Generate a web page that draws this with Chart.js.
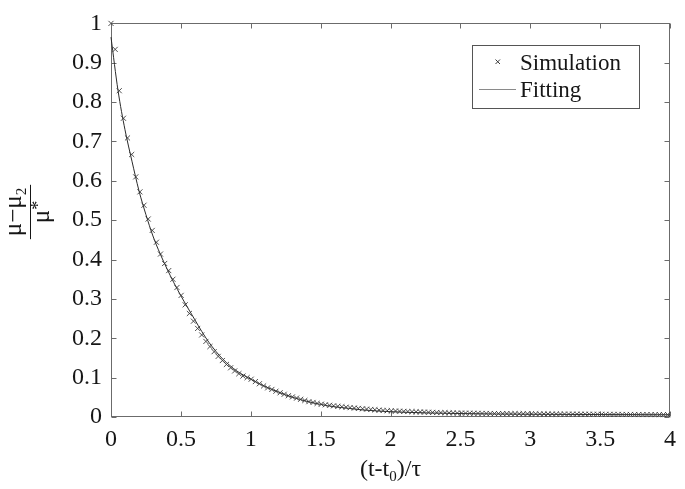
<!DOCTYPE html>
<html>
<head>
<meta charset="utf-8">
<script src="https://cdn.jsdelivr.net/npm/chart.js@4.4.1/dist/chart.umd.min.js"></script>
<style>
  html, body { margin: 0; padding: 0; background: #fff; }
  #wrap { width: 685px; height: 489px; }
</style>
</head>
<body>
<div id="wrap"><canvas id="chart" width="685" height="489"></canvas></div>
<script>
// --- data ---

const SIM_X = [
  0, 0.03, 0.059, 0.089, 0.118, 0.148, 0.177, 0.207, 0.236, 0.266,
  0.295, 0.325, 0.354, 0.384, 0.413, 0.443, 0.472, 0.502, 0.531, 0.561,
  0.59, 0.62, 0.649, 0.679, 0.708, 0.738, 0.767, 0.797, 0.826, 0.856,
  0.885, 0.915, 0.944, 0.974, 1.003, 1.033, 1.062, 1.092, 1.121, 1.151,
  1.18, 1.21, 1.239, 1.269, 1.298, 1.328, 1.357, 1.387, 1.416, 1.446,
  1.475, 1.505, 1.534, 1.564, 1.593, 1.623, 1.652, 1.682, 1.711, 1.741,
  1.77, 1.8, 1.829, 1.859, 1.888, 1.918, 1.947, 1.977, 2.006, 2.036,
  2.065, 2.095, 2.124, 2.154, 2.183, 2.213, 2.242, 2.272, 2.301, 2.331,
  2.36, 2.39, 2.419, 2.449, 2.478, 2.508, 2.537, 2.567, 2.596, 2.626,
  2.655, 2.685, 2.714, 2.744, 2.773, 2.803, 2.832, 2.862, 2.891, 2.921,
  2.95, 2.98, 3.009, 3.039, 3.068, 3.098, 3.127, 3.157, 3.186, 3.216,
  3.245, 3.275, 3.304, 3.334, 3.363, 3.393, 3.422, 3.452, 3.481, 3.511,
  3.54, 3.57, 3.599, 3.629, 3.658, 3.688, 3.717, 3.747, 3.776, 3.806,
  3.835, 3.865, 3.894, 3.924, 3.953, 3.983
];
const SIM_Y = [
  1.0, 0.934, 0.829, 0.759, 0.709, 0.667, 0.61, 0.572, 0.538, 0.503,
  0.474, 0.444, 0.414, 0.39, 0.372, 0.35, 0.329, 0.309, 0.285, 0.263,
  0.2435, 0.225, 0.2085, 0.192, 0.179, 0.166, 0.154, 0.1435, 0.1335, 0.125,
  0.117, 0.11, 0.104, 0.1, 0.096, 0.09, 0.0845, 0.079, 0.074, 0.07,
  0.0655, 0.0615, 0.0577, 0.054, 0.051, 0.048, 0.045, 0.042, 0.039, 0.037,
  0.0345, 0.0325, 0.031, 0.0297, 0.0284, 0.0272, 0.026, 0.0249, 0.0238, 0.0228,
  0.0218, 0.0209, 0.02, 0.0191, 0.0183, 0.0175, 0.0167, 0.016, 0.0156, 0.0152,
  0.0147, 0.0143, 0.0139, 0.0135, 0.0131, 0.0128, 0.0124, 0.0121, 0.0117, 0.0114,
  0.0111, 0.0108, 0.0105, 0.0102, 0.01, 0.0099, 0.0097, 0.0096, 0.0094, 0.0093,
  0.0091, 0.009, 0.0089, 0.0088, 0.0087, 0.0086, 0.0085, 0.0084, 0.0083, 0.0082,
  0.0081, 0.008, 0.0079, 0.0079, 0.0078, 0.0077, 0.0077, 0.0076, 0.0075, 0.0075,
  0.0074, 0.0073, 0.0073, 0.0072, 0.0071, 0.0071, 0.007, 0.0069, 0.0069, 0.0068,
  0.0067, 0.0067, 0.0066, 0.0066, 0.0065, 0.0064, 0.0064, 0.0063, 0.0063, 0.0062,
  0.0062, 0.0061, 0.0061, 0.006, 0.006, 0.006
];

const FIT_X = [
  0, 0.05, 0.1, 0.15, 0.2, 0.25, 0.3, 0.35, 0.4, 0.45,
  0.5, 0.55, 0.6, 0.65, 0.7, 0.75, 0.8, 0.85, 0.9, 0.95,
  1.0, 1.1, 1.2, 1.3, 1.4, 1.5, 1.6, 1.7, 1.8, 1.9,
  2.0, 2.25, 2.5, 2.75, 3.0, 3.5, 4.0
];
const FIT_Y = [
  0.965, 0.83, 0.73, 0.65, 0.575, 0.514, 0.46, 0.416, 0.377, 0.341,
  0.308, 0.277, 0.247, 0.217, 0.19, 0.167, 0.147, 0.131, 0.117, 0.106,
  0.096, 0.078, 0.063, 0.05, 0.04, 0.032, 0.026, 0.022, 0.018, 0.0155,
  0.0135, 0.0105, 0.0088, 0.0077, 0.007, 0.0062, 0.0057
];

const X_TICKS = [0, 0.5, 1, 1.5, 2, 2.5, 3, 3.5, 4];
const X_TICK_LABELS = ['0', '0.5', '1', '1.5', '2', '2.5', '3', '3.5', '4'];
const Y_TICKS = [0, 0.1, 0.2, 0.3, 0.4, 0.5, 0.6, 0.7, 0.8, 0.9, 1];
const Y_TICK_LABELS = ['0', '0.1', '0.2', '0.3', '0.4', '0.5', '0.6', '0.7', '0.8', '0.9', '1'];

const SERIES_NAMES = ['Simulation', 'Fitting'];

// --- styling ---

const SERIF = "'Liberation Serif', 'Times New Roman', serif";
const AXIS_COLOR = '#6b6b6b';
const TEXT_COLOR = '#161616';
const MARK_COLOR = '#3a3a3a';

// box, inward ticks, axis titles and legend
const framePlugin = {
  id: 'frame',
  beforeDatasetsDraw(chart) {
    const { ctx, chartArea: a, scales: { x, y } } = chart;
    const L = Math.round(a.left) + 0.5, R = Math.round(a.right) - 0.5;
    const T = Math.round(a.top) + 0.5, B = Math.round(a.bottom) - 0.5;
    ctx.save();
    ctx.strokeStyle = AXIS_COLOR;
    ctx.lineWidth = 1;
    ctx.strokeRect(L, T, R - L, B - T);
    ctx.beginPath();
    X_TICKS.forEach(v => {
      const px = Math.round(x.getPixelForValue(v)) + 0.5;
      ctx.moveTo(px, B); ctx.lineTo(px, B - 5);
      ctx.moveTo(px, T); ctx.lineTo(px, T + 5);
    });
    Y_TICKS.forEach(v => {
      const py = Math.round(y.getPixelForValue(v)) + 0.5;
      ctx.moveTo(L, py); ctx.lineTo(L + 5, py);
      ctx.moveTo(R, py); ctx.lineTo(R - 5, py);
    });
    ctx.stroke();
    ctx.restore();
  },
  afterDraw(chart) {
    const { ctx, chartArea: a } = chart;
    ctx.save();
    ctx.fillStyle = TEXT_COLOR;
    ctx.textBaseline = 'alphabetic';
    ctx.textAlign = 'left';

    // x title: (t-t0)/τ
    const big = '24px ' + SERIF, small = '15px ' + SERIF;
    ctx.font = big;
    const p1 = '(t-t', p3 = ')/τ';
    const w1 = ctx.measureText(p1).width, w3 = ctx.measureText(p3).width;
    ctx.font = small;
    const w2 = ctx.measureText('0').width;
    let xs = (a.left + a.right) / 2 - (w1 + w2 + w3) / 2;
    const xb = 476;
    ctx.font = big; ctx.fillText(p1, xs, xb);
    ctx.font = small; ctx.fillText('0', xs + w1, xb + 5);
    ctx.font = big; ctx.fillText(p3, xs + w1 + w2, xb);

    // y title: (μ−μ2)/μ*, rotated
    ctx.translate(30, 212);
    ctx.rotate(-Math.PI / 2);
    const num = '25px ' + SERIF;
    ctx.font = num;
    const n1 = 'μ−μ';
    const wn1 = ctx.measureText(n1).width;
    ctx.font = small;
    const wn2 = ctx.measureText('2').width;
    const wn = wn1 + wn2;
    ctx.font = num; ctx.fillText(n1, -wn / 2, -9);
    ctx.font = small; ctx.fillText('2', -wn / 2 + wn1, -4);
    ctx.strokeStyle = TEXT_COLOR;
    ctx.lineWidth = 1;
    ctx.beginPath();
    ctx.moveTo(-wn / 2 - 3, 0.5); ctx.lineTo(wn / 2 + 3, 0.5);
    ctx.stroke();
    ctx.font = num;
    const wd1 = ctx.measureText('μ').width;
    ctx.font = '18px ' + SERIF;
    const wd2 = ctx.measureText('*').width;
    const wd = wd1 + wd2;
    ctx.font = num; ctx.fillText('μ', -wd / 2, 19);
    ctx.font = '18px ' + SERIF; ctx.fillText('*', -wd / 2 + wd1, 14);
    ctx.setTransform(1, 0, 0, 1, 0, 0);

    // legend
    ctx.strokeStyle = '#555';
    ctx.lineWidth = 1;
    ctx.strokeRect(472.5, 45.5, 167, 63);
    ctx.strokeStyle = MARK_COLOR;
    ctx.beginPath();
    ctx.moveTo(495.5, 59.5); ctx.lineTo(500, 64);
    ctx.moveTo(500, 59.5); ctx.lineTo(495.5, 64);
    ctx.stroke();
    ctx.strokeStyle = '#8a8a8a';
    ctx.beginPath();
    ctx.moveTo(479, 89.5); ctx.lineTo(516, 89.5);
    ctx.stroke();
    ctx.fillStyle = TEXT_COLOR;
    ctx.font = '23px ' + SERIF;
    ctx.fillText(SERIES_NAMES[0], 520, 70);
    ctx.fillText(SERIES_NAMES[1], 520, 97);
    ctx.restore();
  }
};

const simPoints = SIM_X.map((v, i) => ({ x: v, y: SIM_Y[i] }));
const fitPoints = FIT_X.map((v, i) => ({ x: v, y: FIT_Y[i] }));

new Chart(document.getElementById('chart'), {
  type: 'scatter',
  data: {
    datasets: [
      {
        label: SERIES_NAMES[1],
        data: fitPoints,
        showLine: true,
        borderColor: '#2a2a2a',
        borderWidth: 1,
        pointRadius: 0,
        cubicInterpolationMode: 'monotone',
        order: 2
      },
      {
        label: SERIES_NAMES[0],
        data: simPoints,
        showLine: false,
        pointStyle: 'crossRot',
        pointRadius: 3.6,
        borderColor: MARK_COLOR,
        borderWidth: 0.9,
        order: 1
      }
    ]
  },
  options: {
    responsive: false,
    devicePixelRatio: 1,
    animation: false,
    clip: false,
    layout: { padding: { top: 17, right: 15, left: 0, bottom: 0 } },
    plugins: { legend: { display: false }, tooltip: { enabled: false } },
    scales: {
      x: {
        type: 'linear',
        min: 0,
        max: 4,
        afterBuildTicks: s => { s.ticks = X_TICKS.map(v => ({ value: v })); },
        afterFit: s => { s.height = 72; },
        grid: { display: false, drawTicks: false },
        border: { display: false },
        ticks: {
          padding: 8,
          maxRotation: 0,
          color: TEXT_COLOR,
          font: { family: SERIF, size: 24 },
          callback: (v, i) => X_TICK_LABELS[i]
        }
      },
      y: {
        type: 'linear',
        min: 0,
        max: 1,
        afterBuildTicks: s => { s.ticks = Y_TICKS.map(v => ({ value: v })); },
        afterFit: s => { s.width = 111; },
        grid: { display: false, drawTicks: false },
        border: { display: false },
        ticks: {
          padding: 9,
          color: TEXT_COLOR,
          font: { family: SERIF, size: 24 },
          callback: (v, i) => Y_TICK_LABELS[i]
        }
      }
    }
  },
  plugins: [framePlugin]
});
</script>
</body>
</html>
